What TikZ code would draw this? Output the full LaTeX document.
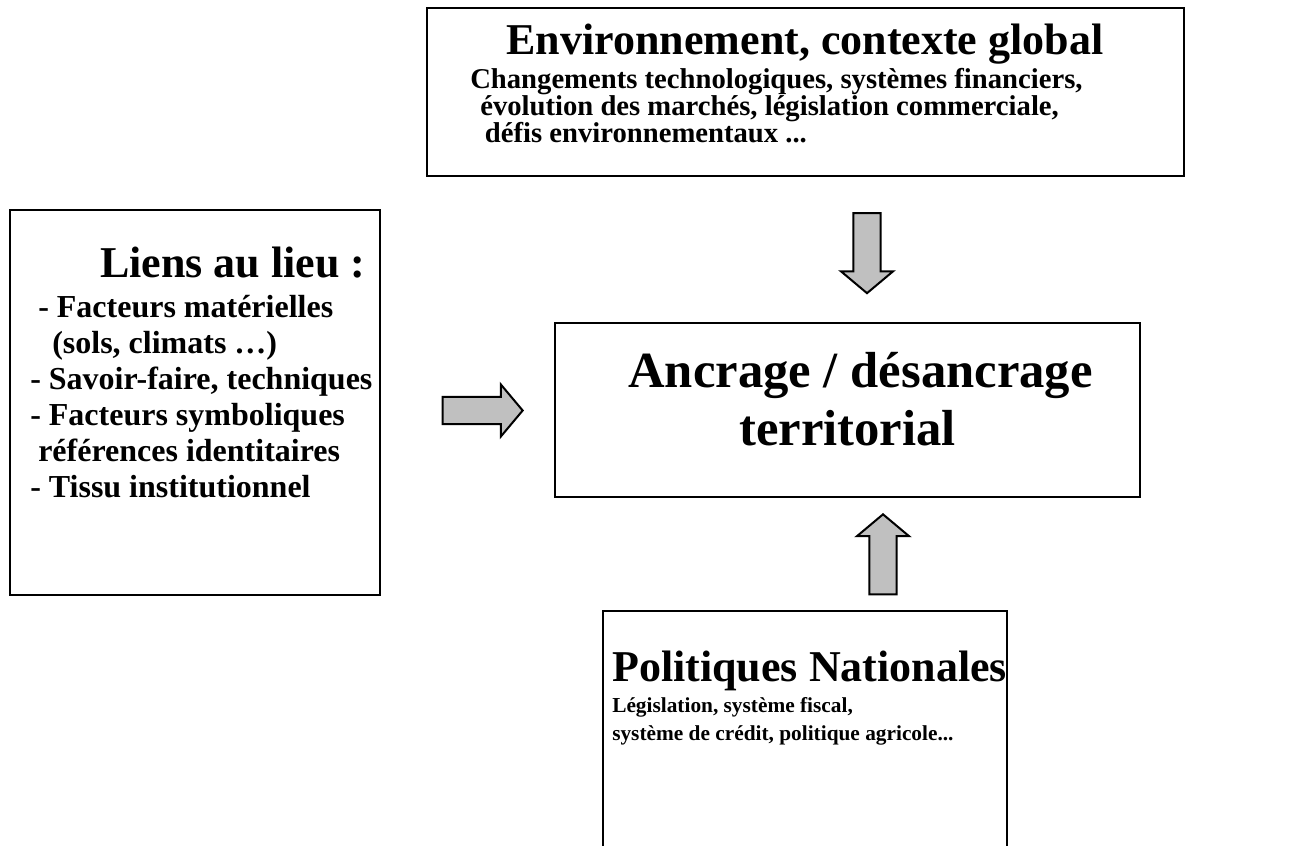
\documentclass[tikz,border=0pt]{standalone}
\usepackage{fontspec}
\setmainfont{Liberation Serif}
\usetikzlibrary{positioning,shapes.arrows}

\definecolor{arrowgray}{RGB}{192,192,192}

\tikzset{
  box/.style={draw, line width=2pt, inner sep=0pt},
  bigarrow/.style={single arrow, draw, line width=1.5pt, fill=arrowgray,
    inner sep=0pt, text height=0pt, text depth=0pt, inner ysep=9.4pt,
    minimum height=60pt, single arrow head extend=9.4pt,
    single arrow tip angle=100, single arrow head indent=0pt},
  headfont/.style={font=\fontsize{33}{36}\selectfont\bfseries},
  envfont/.style={font=\fontsize{21.5}{20.25}\selectfont\bfseries},
  bodyfont/.style={font=\fontsize{24}{27}\selectfont\bfseries},
  polfont/.style={font=\fontsize{16}{21}\selectfont\bfseries},
  titlefont/.style={font=\fontsize{38}{43.5}\selectfont\bfseries}
}

\begin{document}
\begin{tikzpicture}[x=0.75pt, y=-0.75pt]
  \useasboundingbox (0,0) rectangle (1312,845);

  % the four boxes
  \node[box, minimum width=567.75pt, minimum height=126pt] (env) at (805.5,92) {};
  \node[box, minimum width=277.5pt, minimum height=288.75pt] (liens) at (195,402.5) {};
  \node[box, minimum width=438.75pt, minimum height=130.5pt] (ancrage) at (847.5,410) {};
  \node[box, minimum width=303pt, minimum height=201.75pt] (politiques) at (805,745.5) {};

  % texts
  \node[headfont, anchor=base] (envtitle) at (805,55) {Environnement, contexte global};
  \node[envfont, anchor=north west, align=left, inner sep=0pt] (envtext) at (470,68)
    {Changements technologiques, syst\`emes financiers,\\
     \hspace*{7.5pt}\'evolution des march\'es, l\'egislation commerciale,\\
     \hspace*{11pt}d\'efis environnementaux ...};

  \node[headfont, anchor=base west, inner sep=0pt] (lienstitle) at (100,277) {Liens au lieu :};
  \node[bodyfont, anchor=north west, align=left, inner sep=0pt] (lienstext) at (30,295)
    {\hspace*{6pt}- Facteurs mat\'erielles\\
     \hspace*{16.5pt}(sols, climats \dots)\\
     - Savoir-faire, techniques\\
     - Facteurs symboliques\\
     \hspace*{6pt}r\'ef\'erences identitaires\\
     - Tissu institutionnel};

  \node[titlefont, align=center] (ancragetext) at (847.5,399)
    {\hspace*{19.5pt}Ancrage / d\'esancrage\\territorial};

  \node[headfont, anchor=base west, inner sep=0pt] (poltitle) at (612,681) {Politiques Nationales};
  \node[polfont, anchor=north west, align=left, inner sep=0pt] (poltext) at (612,697)
    {L\'egislation, syst\`eme fiscal,\\
     syst\`eme de cr\'edit, politique agricole...};

  % block arrows
  \node[bigarrow, rotate=-90] (downarrow) at (867,247.5) {};
  \node[bigarrow] (rightarrow) at (477,410.5) {};
  \node[bigarrow, rotate=90] (uparrow) at (883,560) {};
\end{tikzpicture}
\end{document}
